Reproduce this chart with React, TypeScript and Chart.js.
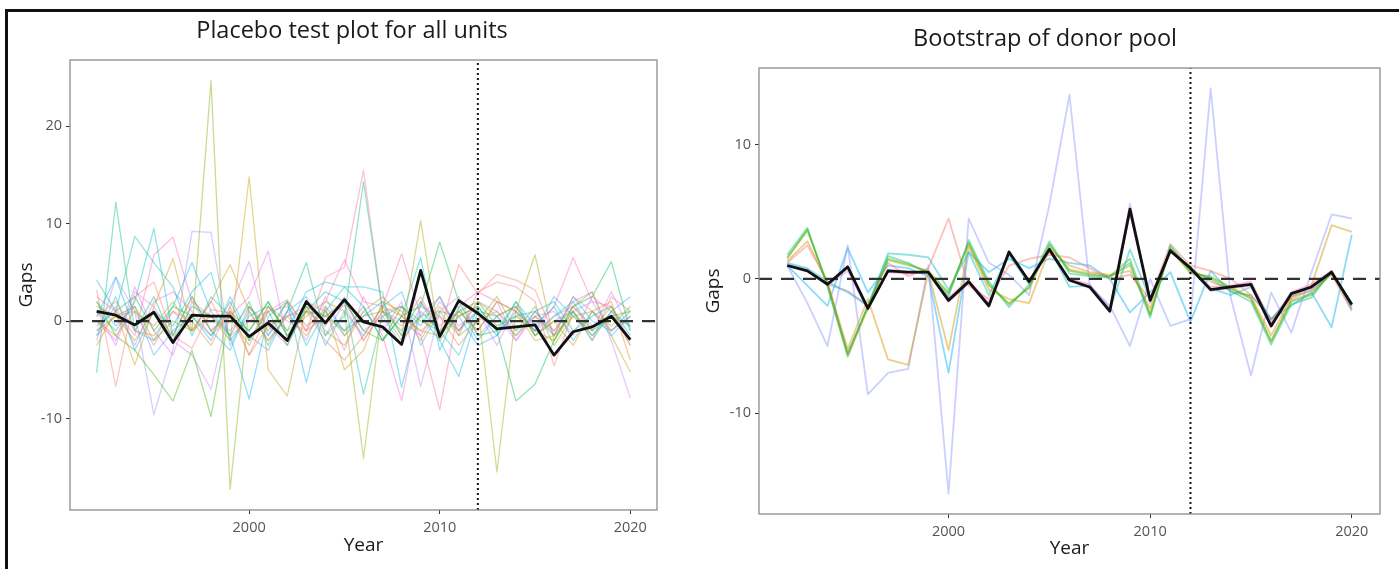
import React, { useEffect, useRef } from "react";
import { Chart, registerables } from "chart.js";

Chart.register(...registerables);
Chart.defaults.font.family = "'Open Sans', 'Noto Sans', sans-serif";

// ---- data -------------------------------------------------------------
const years = [
  1992, 1993, 1994, 1995, 1996, 1997, 1998, 1999, 2000, 2001,
  2002, 2003, 2004, 2005, 2006, 2007, 2008, 2009, 2010, 2011,
  2012, 2013, 2014, 2015, 2016, 2017, 2018, 2019, 2020,
];
const treatmentYear = 2012;
const xTicks = [2000, 2010, 2020];
const placeboYTicks = [-10, 0, 10, 20];
const bootstrapYTicks = [-10, 0, 10];

// gaps of the treated unit
const treatedGaps = [
  1.0, 0.6, -0.4, 0.9, -2.2, 0.6, 0.5, 0.5, -1.6, -0.2,
  -2.0, 2.0, -0.2, 2.2, -0.1, -0.6, -2.4, 5.2, -1.6, 2.1,
  0.8, -0.8, -0.6, -0.4, -3.5, -1.1, -0.6, 0.5, -1.9,
];

// placebo gaps, one array per donor unit
const placebo01 = [3.2, -6.7, 2.5, 4.0, -1.5, -2.8, 1.2, 0.8, -3.5, 1.0, 2.2, -1.0, 0.5, 1.6, -2.0, 1.0, -0.5, 2.5, -1.2, 5.8, 2.8, 4.8, 4.2, 3.2, -1.5, 2.5, 1.0, -1.0, 0.5];
const placebo02 = [0.5, 2.0, -1.0, -1.5, 1.0, 0.0, -2.5, 1.5, -3.5, -0.5, 0.5, 1.0, -2.0, -4.0, -1.5, 1.5, 0.5, -1.0, 0.5, -2.5, 0.0, 1.0, -1.5, 0.5, -1.0, 1.5, -0.5, 0.5, -2.0];
const placebo03 = [-2.5, 1.0, -4.5, 1.5, 6.4, -1.0, 2.0, 5.8, 1.0, -2.0, 0.5, -1.5, 1.5, -5.0, -3.0, 2.0, 1.0, -2.0, 1.5, -1.0, 2.0, 0.5, 1.5, -1.5, 0.0, -2.5, 1.0, 2.0, -4.0];
const placebo04 = [0.0, -1.5, 1.0, -0.5, 2.0, -1.0, 0.5, -2.0, 14.8, -5.0, -7.7, 1.5, -1.0, -2.5, 1.0, 2.5, 0.5, -1.0, -1.5, 1.0, -1.0, 2.0, 1.0, -2.0, -1.5, 0.5, -1.0, 1.5, -2.5];
const placebo05 = [1.5, 0.5, -2.0, 1.0, -1.5, 2.5, -1.0, 0.5, -2.5, 1.5, -1.0, 0.5, 2.0, 1.0, -14.1, 1.5, -1.5, 10.3, -2.0, 0.5, 1.5, -15.5, 1.0, 6.8, -2.0, 1.5, 3.0, -1.5, -5.2];
const placebo06 = [-1.0, 0.5, 1.5, -2.0, 0.0, -1.0, 24.7, -17.3, 1.5, -1.0, 2.0, -0.5, 1.0, -1.5, 0.5, 1.0, -2.0, 0.5, 1.0, -1.5, 0.0, 2.5, -1.0, 1.5, -2.5, 0.5, 1.0, -0.5, 1.5];
const placebo07 = [2.0, -1.5, -3.0, -5.5, -8.2, -3.0, -9.8, 1.0, -1.0, 2.0, -1.5, 1.0, 0.5, 2.0, -1.0, -2.0, 1.5, 0.0, -1.0, 1.0, 2.0, -0.5, 0.5, -1.0, -2.0, 1.0, -1.5, 0.5, 1.0];
const placebo08 = [-0.5, 1.0, 2.5, -1.0, 1.5, 0.5, -1.5, 2.0, -2.0, 1.0, -2.5, 1.5, 0.5, -1.0, 1.5, -2.0, 0.5, 1.5, 8.1, 2.0, -1.5, -1.0, -8.2, -6.5, -2.0, 1.5, 2.5, 6.1, -1.0];
const placebo09 = [-5.3, 12.2, -1.0, 2.5, -2.0, 1.5, 0.5, -1.5, 2.0, -2.5, 1.0, 6.0, -1.5, 0.5, 14.3, 1.0, -1.0, 2.0, -1.5, 0.5, 1.5, -1.0, 2.0, -1.5, 0.0, 1.0, -2.0, 1.0, -0.5];
const placebo10 = [4.2, 1.0, 8.7, 6.0, 3.5, -1.5, 2.5, 0.5, -1.0, 2.0, -1.5, 1.0, 3.0, 2.0, -7.5, 0.5, 1.5, -0.5, 2.5, -1.0, 1.0, 0.5, -1.5, 1.0, 2.0, -1.0, 0.5, 1.5, -1.5];
const placebo11 = [1.0, -1.0, 2.0, 9.5, -1.5, 2.5, -1.0, -3.0, 1.5, -1.5, 2.0, -2.5, 1.0, 3.5, 1.5, -2.0, 0.5, 6.5, -3.0, 1.5, -2.0, 0.5, 1.5, -1.5, 0.5, 2.0, -1.0, 0.5, -0.5];
const placebo12 = [-1.5, 2.5, -3.0, 1.0, -0.5, 3.0, 5.0, -2.0, 0.5, 1.5, -1.0, 3.0, 4.0, 3.5, 3.5, 3.0, -6.8, 1.0, -1.0, -3.5, 1.5, -1.0, 0.5, 1.0, -1.5, 2.5, 0.0, -1.0, 1.0];
const placebo13 = [0.5, 4.5, -1.0, -2.0, 1.5, 6.0, 1.0, -1.5, -8.0, 0.5, 2.0, -6.3, 1.5, -1.0, 0.5, 2.0, -1.5, 0.5, -2.0, -5.7, 1.0, -1.5, 2.0, -0.5, 1.5, -2.0, 1.0, -1.5, 0.5];
const placebo14 = [2.0, -0.5, 1.5, -3.5, -1.0, 0.5, -2.0, 2.5, -1.5, -3.0, 1.0, 2.5, -2.5, 1.0, -1.5, 1.5, 3.0, -2.5, 1.0, 0.5, -2.5, -1.5, 1.0, -1.0, 2.5, 0.5, -1.5, 1.0, 2.5];
const placebo15 = [-2.0, 4.5, 1.0, -9.6, -3.0, 9.2, 9.1, -2.5, 1.0, -2.0, 0.5, 1.5, -1.5, 2.0, -1.0, 0.5, -2.5, 1.5, 0.5, -1.0, 2.0, 1.0, -1.0, 0.5, -1.5, 1.0, 2.0, -1.0, 0.5];
const placebo16 = [1.0, -2.5, 3.0, 1.5, -2.0, -3.5, -7.0, 1.5, 6.1, -1.5, 1.0, -2.0, 2.5, -1.5, 1.0, -1.0, 2.0, -6.7, 1.0, 2.5, -1.5, 0.5, -2.0, 1.0, -1.0, 2.0, 3.0, -2.0, -7.9];
const placebo17 = [-1.0, 1.5, -2.5, 2.0, 3.0, 1.0, -1.5, 0.5, 2.5, 7.2, -2.0, 1.0, -0.5, 2.5, -2.0, 1.0, 0.0, -1.5, 2.0, -0.5, 1.0, -2.5, 1.5, -1.0, 0.5, 1.5, -1.0, 3.0, -1.0];
const placebo18 = [0.0, -2.0, 3.5, -1.0, -3.5, 2.0, 0.5, -1.0, 1.5, -0.5, -2.5, 2.0, 1.0, -3.0, 2.5, -1.5, -8.2, 2.0, -0.5, 1.0, -1.0, 2.0, -2.0, 0.5, 1.0, -1.5, 2.5, 1.0, -2.5];
const placebo19 = [2.5, 1.0, -1.5, 6.8, 8.6, 2.0, -1.0, 1.0, -2.0, 1.5, 0.0, -1.0, 2.0, 6.3, 2.0, 1.5, 6.9, 0.5, 2.5, -1.5, 3.0, 2.0, 1.0, -1.0, 1.5, 6.5, 2.0, 1.5, -2.0];
const placebo20 = [-1.5, 0.5, 1.0, -2.5, 1.0, -1.0, 2.0, -1.5, 0.0, 1.0, 1.5, -1.0, 4.5, 5.5, 15.5, 1.0, 1.5, -1.5, -9.1, 1.5, 3.0, 4.0, 3.5, 2.0, -4.6, 1.0, -2.0, 2.5, 1.0];

const placeboUnits = [
  placebo01, placebo02, placebo03, placebo04, placebo05, placebo06, placebo07,
  placebo08, placebo09, placebo10, placebo11, placebo12, placebo13, placebo14,
  placebo15, placebo16, placebo17, placebo18, placebo19, placebo20,
];
const placeboColors = [
  "#F8766D", "#EA8331", "#D89000", "#C09B00", "#A3A500", "#7CAE00", "#39B600",
  "#00BB4E", "#00BF7D", "#00C1A3", "#00BFC4", "#00BAE0", "#00B0F6", "#35A2FF",
  "#9590FF", "#C77CFF", "#E76BF3", "#FA62DB", "#FF62BC", "#FF6C91",
];

// bootstrap replicates of the donor pool
const boot01 = [1.6, 3.6, -0.4, -5.5, -2.1, 1.5, 1.1, 0.5, -1.1, 2.7, -0.4, -1.9, -0.6, 2.6, 0.6, 0.3, 0.2, 1.5, -2.7, 2.3, 0.5, 0.1, -0.7, -1.5, -4.6, -1.7, -1.2, 0.5, -2.0];
const boot02 = [1.8, 3.8, -0.6, -5.7, -2.0, 1.7, 1.2, 0.4, -1.3, 2.9, -0.2, -2.1, -0.4, 2.8, 0.4, 0.2, 0.1, 1.2, -2.9, 2.5, 0.6, 0.0, -0.9, -1.7, -4.9, -1.9, -1.4, 0.6, -2.2];
const boot03 = [1.5, 3.7, -0.5, -5.8, -2.2, 1.4, 1.0, 0.6, -1.0, 2.6, -0.5, -1.8, -0.7, 2.5, 0.7, 0.4, 0.2, 1.0, -2.6, 2.2, 0.4, 0.2, -0.6, -1.4, -4.7, -1.6, -1.1, 0.4, -1.9];
const boot04 = [1.2, 2.5, -0.2, -5.6, -2.0, 1.2, 0.2, 0.8, 4.5, -0.5, -1.5, 1.0, 1.5, 1.8, 1.6, 0.8, 0.0, 0.3, -1.5, 2.6, 1.0, 0.6, 0.0, -1.2, -3.0, -1.5, -0.8, 0.3, -2.4];
const boot05 = [1.3, 2.8, -0.3, -5.2, -1.5, -6.0, -6.4, 0.5, -5.3, 2.4, -0.8, -1.5, -1.8, 2.2, 1.0, 0.5, 0.3, 0.6, -2.2, 2.3, 0.8, -0.2, -0.8, -1.3, -4.2, -1.4, -0.5, 4.0, 3.5];
const boot06 = [1.2, 0.8, -0.2, -1.0, -2.0, 1.9, 1.8, 1.6, -0.8, 2.0, -1.2, 1.8, -0.4, 2.3, -0.6, -0.5, -2.3, 2.2, -1.5, 2.1, 0.9, -0.7, -1.2, -0.6, -3.0, -1.3, -0.9, 0.4, -1.8];
const boot07 = [1.0, -1.8, -5.0, 2.5, -8.6, -7.0, -6.7, 1.0, -16.0, 4.5, 1.2, 0.3, -1.2, 5.5, 13.7, -0.5, -2.0, -5.0, 0.0, -3.5, -3.0, 14.2, -1.4, -7.2, -1.0, -4.0, 0.5, 4.8, 4.5];
const boot08 = [1.0, -0.5, -2.0, 2.3, -1.0, 1.0, 0.8, 0.2, -7.0, 2.0, 0.5, 1.5, 0.8, 1.5, 1.2, 1.0, 0.0, -2.5, -1.0, 0.5, -3.2, 0.6, -1.0, -1.2, -3.0, -2.0, -1.0, -3.6, 3.3];
const boot09 = [1.1, 0.7, -0.5, 0.6, -2.3, 0.7, 0.5, 0.4, -1.7, -0.3, -2.1, 2.1, -0.3, 2.3, -0.1, -0.7, -2.5, 5.6, -1.8, 2.2, 0.7, -0.9, -0.7, -0.5, -3.6, -1.2, -0.7, 0.6, -2.0];
const boot10 = [1.0, 0.6, -0.4, -0.9, -2.0, 0.5, 0.4, 0.5, -1.4, -0.1, -1.8, 1.9, -0.1, 2.0, 0.0, -0.4, -2.2, 4.9, -1.5, 2.0, 0.8, -0.6, -0.5, -0.2, -3.2, -1.0, -0.4, 0.6, -2.3];

const bootstrapRuns = [boot01, boot02, boot03, boot04, boot05, boot06, boot07, boot08, boot09, boot10];
const bootstrapColors = [
  "#39B600", "#00BF7D", "#A3A500", "#F8766D", "#D89000",
  "#00BFC4", "#8C96FF", "#00B0F6", "#C77CFF", "#FF62BC",
];

// ---- helpers ----------------------------------------------------------
const withAlpha = (hex: string, a: number) => {
  const n = parseInt(hex.slice(1), 16);
  return `rgba(${(n >> 16) & 255},${(n >> 8) & 255},${n & 255},${a})`;
};
// ggplot-style 5% expansion of a continuous range
const expand = (lo: number, hi: number) => {
  const pad = (hi - lo) * 0.05;
  return [lo - pad, hi + pad];
};

type PanelLayout = {
  left: number;
  width: number;
  height: number;
  plotLeft: number;
  plotRight: number;
  plotTop: number;
  plotBottom: number;
  titleX: number;
  titleY: number;
  gapsX: number;
  yearY: number;
};

type PanelProps = {
  title: string;
  runs: number[][];
  colors: string[];
  alpha: number;
  lineWidth: number;
  yTicks: number[];
  layout: PanelLayout;
};

function GapPanel({ title, runs, colors, alpha, lineWidth, yTicks, layout }: PanelProps) {
  const ref = useRef<HTMLCanvasElement | null>(null);

  useEffect(() => {
    const canvas = ref.current;
    if (!canvas) return;
    const allValues = [...runs.flat(), ...treatedGaps];
    const [yMin, yMax] = expand(Math.min(...allValues), Math.max(...allValues));
    const [xMin, xMax] = expand(years[0], years[years.length - 1]);
    const points = (vals: number[]) => vals.map((v, i) => ({ x: years[i], y: v }));

    const datasets: any[] = [
      { data: points(treatedGaps), borderColor: "#111111", borderWidth: 2.8, order: 0 },
      {
        data: [{ x: treatmentYear, y: yMin }, { x: treatmentYear, y: yMax }],
        borderColor: "#111111",
        borderWidth: 2,
        borderDash: [2, 3],
        order: 1,
      },
      {
        data: [{ x: xMin, y: 0 }, { x: xMax, y: 0 }],
        borderColor: "#333333",
        borderWidth: 2.2,
        borderDash: [13, 9],
        order: 2,
      },
      ...runs.map((vals, k) => ({
        data: points(vals),
        borderColor: withAlpha(colors[k % colors.length], alpha),
        borderWidth: lineWidth,
        order: 3 + k,
      })),
    ];

    const panelFrame = {
      id: "panelFrame",
      afterDatasetsDraw(chart: any) {
        const { ctx, chartArea: a } = chart;
        ctx.save();
        ctx.strokeStyle = "#8c8c8c";
        ctx.lineWidth = 1.3;
        ctx.strokeRect(a.left, a.top, a.right - a.left, a.bottom - a.top);
        ctx.restore();
      },
      afterDraw(chart: any) {
        const { ctx, chartArea: a } = chart;
        ctx.save();
        ctx.fillStyle = "#1a1a1a";
        ctx.textAlign = "center";
        ctx.textBaseline = "middle";
        ctx.font = "23.5px 'Open Sans'";
        ctx.fillText(title, layout.titleX, layout.titleY);
        ctx.font = "19px 'Open Sans'";
        ctx.fillText("Year", (a.left + a.right) / 2, layout.yearY);
        ctx.translate(layout.gapsX, (a.top + a.bottom) / 2);
        ctx.rotate(-Math.PI / 2);
        ctx.fillText("Gaps", 0, 0);
        ctx.restore();
      },
    };

    const tickFont = { size: 14.5 };
    const chart = new Chart(canvas, {
      type: "line",
      data: { datasets },
      plugins: [panelFrame],
      options: {
        animation: false,
        responsive: false,
        devicePixelRatio: 1,
        events: [],
        layout: {
          padding: {
            left: 0,
            top: layout.plotTop,
            right: layout.width - layout.plotRight,
            bottom: 0,
          },
        },
        elements: {
          point: { radius: 0 },
          line: { tension: 0, borderJoinStyle: "round", fill: false },
        },
        plugins: {
          legend: { display: false },
          tooltip: { enabled: false },
          title: { display: false },
        },
        scales: {
          x: {
            type: "linear",
            min: xMin,
            max: xMax,
            afterBuildTicks: (s: any) => {
              s.ticks = xTicks.map((v) => ({ value: v }));
            },
            afterFit: (s: any) => {
              s.height = layout.height - layout.plotBottom;
            },
            ticks: {
              color: "#555555",
              font: tickFont,
              padding: 5,
              maxRotation: 0,
              autoSkip: false,
              callback: (v: any) => String(v),
            },
            grid: { drawOnChartArea: false, drawTicks: true, tickLength: 4, color: "#333333" },
            border: { display: false },
          },
          y: {
            type: "linear",
            min: yMin,
            max: yMax,
            afterBuildTicks: (s: any) => {
              s.ticks = yTicks.map((v) => ({ value: v }));
            },
            afterFit: (s: any) => {
              s.width = layout.plotLeft;
            },
            ticks: {
              color: "#555555",
              font: tickFont,
              padding: 4,
              autoSkip: false,
              callback: (v: any) => String(v),
            },
            grid: { drawOnChartArea: false, drawTicks: true, tickLength: 4, color: "#333333" },
            border: { display: false },
          },
        },
      } as any,
    });

    return () => chart.destroy();
  }, []);

  return (
    <canvas
      ref={ref}
      width={layout.width}
      height={layout.height}
      style={{ position: "absolute", left: layout.left, top: 0, width: layout.width, height: layout.height }}
    />
  );
}

const placeboLayout: PanelLayout = {
  left: 0,
  width: 695,
  height: 569,
  plotLeft: 70,
  plotRight: 657,
  plotTop: 60,
  plotBottom: 510,
  titleX: 352,
  titleY: 31,
  gapsX: 27,
  yearY: 546,
};

const bootstrapLayout: PanelLayout = {
  left: 695,
  width: 704,
  height: 569,
  plotLeft: 64,
  plotRight: 685,
  plotTop: 68,
  plotBottom: 514,
  titleX: 350,
  titleY: 39,
  gapsX: 19,
  yearY: 549,
};

export default function App() {
  return (
    <div
      style={{
        position: "fixed",
        left: 0,
        top: 0,
        width: 1399,
        height: 569,
        background: "#ffffff",
        overflow: "hidden",
      }}
    >
      <GapPanel
        title="Placebo test plot for all units"
        runs={placeboUnits}
        colors={placeboColors}
        alpha={0.42}
        lineWidth={1.3}
        yTicks={placeboYTicks}
        layout={placeboLayout}
      />
      <GapPanel
        title="Bootstrap of donor pool"
        runs={bootstrapRuns}
        colors={bootstrapColors}
        alpha={0.45}
        lineWidth={1.8}
        yTicks={bootstrapYTicks}
        layout={bootstrapLayout}
      />
      <div
        style={{
          position: "absolute",
          left: 5,
          top: 9,
          width: 1394,
          height: 560,
          borderTop: "3px solid #111111",
          borderLeft: "3px solid #111111",
          boxSizing: "border-box",
          pointerEvents: "none",
        }}
      />
    </div>
  );
}
